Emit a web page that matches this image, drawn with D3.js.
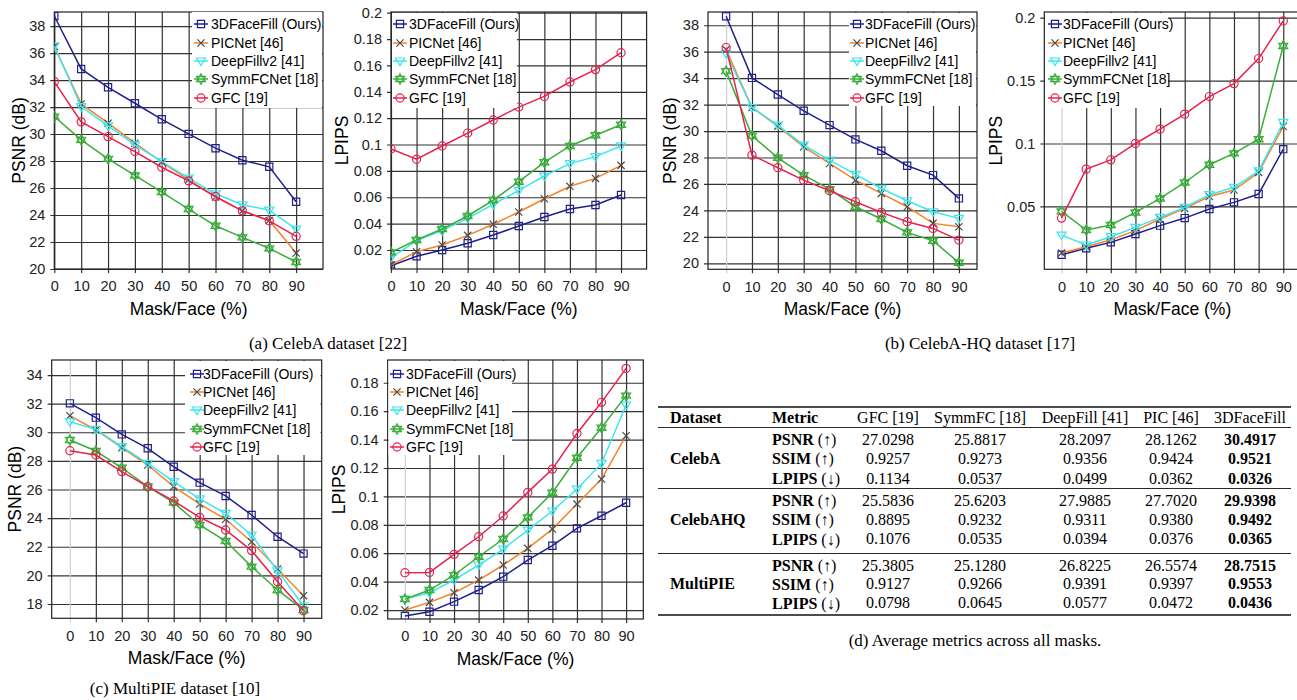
<!DOCTYPE html>
<html>
<head>
<meta charset="utf-8">
<script src="https://cdn.jsdelivr.net/npm/d3@7"></script>
<style>
  body { margin: 0; background: #fff; }
  svg { display: block; }
</style>
</head>
<body>
<script>
// data
const maskPct = [0, 10, 20, 30, 40, 50, 60, 70, 80, 90]
const methods = ["3DFaceFill (Ours)", "PICNet [46]", "DeepFillv2 [41]", "SymmFCNet [18]", "GFC [19]"]

// rows follow the methods order
const celebaPsnr = [
  [38.74, 34.82, 33.46, 32.28, 31.09, 30.01, 28.95, 28.06, 27.57, 24.98],
  [36.47, 32.23, 30.80, 29.32, 27.91, 26.61, 25.33, 24.31, 23.60, 21.18],
  [36.54, 32.03, 30.60, 29.20, 27.96, 26.73, 25.57, 24.76, 24.36, 22.96],
  [31.29, 29.57, 28.16, 26.93, 25.70, 24.44, 23.20, 22.34, 21.53, 20.52],
  [33.88, 30.90, 29.81, 28.70, 27.54, 26.53, 25.37, 24.31, 23.57, 22.42]
]
const celebaLpips = [
  [0.0081, 0.0152, 0.0200, 0.0251, 0.0314, 0.0382, 0.0450, 0.0511, 0.0541, 0.0617],
  [0.0086, 0.0187, 0.0238, 0.0311, 0.0395, 0.0488, 0.0589, 0.0683, 0.0743, 0.0842],
  [0.0142, 0.0271, 0.0347, 0.0440, 0.0546, 0.0652, 0.0761, 0.0855, 0.0908, 0.0989],
  [0.0182, 0.0276, 0.0359, 0.0458, 0.0579, 0.0718, 0.0865, 0.0989, 0.1070, 0.1150],
  [0.0966, 0.0888, 0.0989, 0.1087, 0.1186, 0.1284, 0.1365, 0.1474, 0.1568, 0.1696]
]
const hqPsnr = [
  [38.68, 34.02, 32.76, 31.53, 30.45, 29.37, 28.51, 27.38, 26.67, 24.91],
  [36.16, 31.78, 30.37, 28.81, 27.55, 26.29, 25.29, 24.28, 23.02, 22.77],
  [35.86, 31.78, 30.45, 28.94, 27.80, 26.72, 25.66, 24.73, 23.90, 23.40],
  [34.53, 29.64, 27.98, 26.67, 25.61, 24.28, 23.35, 22.34, 21.71, 20.05],
  [36.31, 28.18, 27.23, 26.29, 25.49, 24.66, 23.85, 23.15, 22.64, 21.76]
]
const hqLpips = [
  [0.0116, 0.0167, 0.0214, 0.0280, 0.0347, 0.0407, 0.0479, 0.0532, 0.0598, 0.0955],
  [0.0130, 0.0180, 0.0235, 0.0307, 0.0400, 0.0484, 0.0579, 0.0630, 0.0770, 0.1135],
  [0.0272, 0.0193, 0.0259, 0.0333, 0.0413, 0.0492, 0.0593, 0.0651, 0.0783, 0.1167],
  [0.0460, 0.0312, 0.0352, 0.0452, 0.0563, 0.0690, 0.0831, 0.0921, 0.1034, 0.1775],
  [0.0407, 0.0796, 0.0870, 0.1000, 0.1114, 0.1233, 0.1373, 0.1476, 0.1675, 0.1974]
]
const mpPsnr = [
  [32.02, 31.02, 29.85, 28.88, 27.59, 26.48, 25.55, 24.22, 22.70, 21.52],
  [31.16, 30.16, 28.92, 27.71, 26.20, 24.99, 23.92, 22.35, 20.45, 18.58],
  [30.74, 30.20, 28.99, 27.83, 26.55, 25.34, 24.33, 22.82, 20.31, 17.86],
  [29.46, 28.69, 27.52, 26.20, 25.08, 23.52, 22.40, 20.61, 18.98, 17.58],
  [28.71, 28.41, 27.25, 26.20, 25.20, 24.05, 23.17, 21.73, 19.56, 17.53]
]
const mpLpips = [
  [0.0158, 0.0188, 0.0259, 0.0341, 0.0435, 0.0552, 0.0653, 0.0775, 0.0864, 0.0955],
  [0.0200, 0.0254, 0.0322, 0.0411, 0.0517, 0.0634, 0.0770, 0.0946, 0.1122, 0.1427],
  [0.0277, 0.0322, 0.0411, 0.0517, 0.0629, 0.0763, 0.0897, 0.1052, 0.1232, 0.1643],
  [0.0277, 0.0341, 0.0446, 0.0575, 0.0700, 0.0852, 0.1026, 0.1272, 0.1483, 0.1709],
  [0.0463, 0.0465, 0.0592, 0.0716, 0.0862, 0.1028, 0.1192, 0.1443, 0.1662, 0.1901]
]

// tick labels
const xTicks = [0, 10, 20, 30, 40, 50, 60, 70, 80, 90]
const psnrTicksA = [20, 22, 24, 26, 28, 30, 32, 34, 36, 38]
const lpipsTicksA = [0.02, 0.04, 0.06, 0.08, 0.1, 0.12, 0.14, 0.16, 0.18, 0.2]
const psnrTicksB = [20, 22, 24, 26, 28, 30, 32, 34, 36, 38]
const lpipsTicksB = [0.05, 0.1, 0.15, 0.2]
const psnrTicksC = [18, 20, 22, 24, 26, 28, 30, 32, 34]
const lpipsTicksC = [0.02, 0.04, 0.06, 0.08, 0.1, 0.12, 0.14, 0.16, 0.18]

// table
const tableCols = ["GFC [19]", "SymmFC [18]", "DeepFill [41]", "PIC [46]", "3DFaceFill"]
const tableDatasets = ["CelebA", "CelebAHQ", "MultiPIE"]
const tableMetrics = [["PSNR", "(\u2191)"], ["SSIM", "(\u2191)"], ["LPIPS", "(\u2193)"]]
const celebaTable = [
  ["27.0298", "25.8817", "28.2097", "28.1262", "30.4917"],
  ["0.9257", "0.9273", "0.9356", "0.9424", "0.9521"],
  ["0.1134", "0.0537", "0.0499", "0.0362", "0.0326"]
]
const hqTable = [
  ["25.5836", "25.6203", "27.9885", "27.7020", "29.9398"],
  ["0.8895", "0.9232", "0.9311", "0.9380", "0.9492"],
  ["0.1076", "0.0535", "0.0394", "0.0376", "0.0365"]
]
const mpTable = [
  ["25.3805", "25.1280", "26.8225", "26.5574", "28.7515"],
  ["0.9127", "0.9266", "0.9391", "0.9397", "0.9553"],
  ["0.0798", "0.0645", "0.0577", "0.0472", "0.0436"]
]

// styles
const lineColors = ["#1f1f8f", "#f5832a", "#3ee6ee", "#3aae3a", "#e8214f"]
const markColors = ["#1f1f8f", "#4a4a4a", "#3ee6ee", "#3aae3a", "#e8214f"]
const sansFont = "'Liberation Sans', Arial, sans-serif"
const serifFont = "'Liberation Serif', 'Times New Roman', serif"

const W = 1297, H = 700
const svg = d3.select("body").append("svg")
  .attr("width", W)
  .attr("height", H)
  .style("background-color", "white")

// marker shapes
function markerPath(i) {
  if (i == 0) return "M-3.6,-3.6h7.2v7.2h-7.2Z"
  if (i == 1) return "M-3.6,-3.6L3.6,3.6M-3.6,3.6L3.6,-3.6"
  if (i == 2) return "M-4.6,-3L4.6,-3L0,4.6Z"
  if (i == 3) {
    const r = 5.2
    const tri = (a0) => [0, 1, 2].map(k => {
      const a = (a0 + k * 120) * Math.PI / 180
      return [r * Math.cos(a), r * Math.sin(a)]
    })
    const up = tri(-90), dn = tri(90)
    return "M" + up.join("L") + "Z M" + dn.join("L") + "Z"
  }
  return d3.symbol().type(d3.symbolCircle).size(52)()
}

let clipId = 0
function drawPlot(cfg) {
  const x = d3.scaleLinear().domain(cfg.xDomain).range([cfg.left, cfg.right])
  const y = d3.scaleLinear().domain(cfg.yDomain).range([cfg.bottom, cfg.top])
  const g = svg.append("g")

  // horizontal grid + ticks
  const yAxis = d3.axisLeft(y).tickValues(cfg.yTicks)
    .tickSize(-(cfg.right - cfg.left) - 4)
    .tickPadding(5)
    .tickFormat(d3.format("~g"))
  const ya = g.append("g")
    .attr("transform", "translate(" + (cfg.left - 4) + ",0)")
    .call(yAxis)
  ya.select(".domain").remove()
  ya.selectAll("line").attr("stroke", "#333").attr("stroke-width", 1.2)
  ya.selectAll("text").attr("font-family", sansFont).attr("font-size", 14.5).attr("fill", "#222")

  // vertical grid + ticks
  const xAxis = d3.axisBottom(x).tickValues(xTicks)
    .tickSize(-(cfg.bottom - cfg.top) - 4)
    .tickPadding(8)
  const xa = g.append("g")
    .attr("transform", "translate(0," + (cfg.bottom + 4) + ")")
    .call(xAxis)
  xa.select(".domain").remove()
  xa.selectAll("line").attr("stroke", d => (d == 0 && cfg.xDomain[0] < 0) ? "#cfcfcf" : "#333")
    .attr("stroke-width", 1.2)
  xa.selectAll("text").attr("font-family", sansFont).attr("font-size", 14.5).attr("fill", "#222")

  // frame
  g.append("rect")
    .attr("x", cfg.left).attr("y", cfg.top)
    .attr("width", cfg.right - cfg.left).attr("height", cfg.bottom - cfg.top)
    .attr("fill", "none").attr("stroke", "#222").attr("stroke-width", 1.2)

  // series
  const cid = "clip" + (clipId++)
  svg.append("clipPath").attr("id", cid).append("rect")
    .attr("x", cfg.left).attr("y", cfg.top)
    .attr("width", cfg.right - cfg.left).attr("height", cfg.bottom - cfg.top)
  const sg = g.append("g").attr("clip-path", "url(#" + cid + ")")
  const line = d3.line().x((d, i) => x(maskPct[i])).y(d => y(d))
  cfg.series.forEach((vals, si) => {
    sg.append("path")
      .datum(vals)
      .attr("d", line)
      .attr("fill", "none")
      .attr("stroke", lineColors[si])
      .attr("stroke-width", 1.5)
    sg.selectAll(".m" + si)
      .data(vals)
      .enter()
      .append("path")
      .attr("class", "m" + si)
      .attr("transform", (d, i) => "translate(" + x(maskPct[i]) + "," + y(d) + ")")
      .attr("d", markerPath(si))
      .attr("fill", "none")
      .attr("stroke", markColors[si])
      .attr("stroke-width", 1.2)
  })

  // axis titles
  g.append("text")
    .attr("x", (cfg.left + cfg.right) / 2)
    .attr("y", cfg.bottom + 40)
    .attr("text-anchor", "middle")
    .attr("dominant-baseline", "central")
    .attr("font-family", sansFont).attr("font-size", 17.5)
    .text("Mask/Face (%)")
  g.append("text")
    .attr("transform", "translate(" + cfg.titleX + "," + (cfg.top + cfg.bottom) / 2 + ") rotate(-90)")
    .attr("text-anchor", "middle")
    .attr("dominant-baseline", "central")
    .attr("font-family", sansFont).attr("font-size", 17.5)
    .text(cfg.yTitle)

  // legend
  const L = cfg.legend
  g.append("rect")
    .attr("x", L.x0).attr("y", L.y0)
    .attr("width", L.x1 - L.x0).attr("height", L.y1 - L.y0)
    .attr("fill", "white")
  methods.forEach((name, si) => {
    const ry = L.rows[si]
    g.append("line")
      .attr("x1", L.symX - 7).attr("x2", L.symX + 7)
      .attr("y1", ry).attr("y2", ry)
      .attr("stroke", lineColors[si]).attr("stroke-width", 1.5)
    g.append("path")
      .attr("transform", "translate(" + L.symX + "," + ry + ")")
      .attr("d", markerPath(si))
      .attr("fill", "none")
      .attr("stroke", markColors[si]).attr("stroke-width", 1.2)
    g.append("text")
      .attr("x", L.textX).attr("y", ry)
      .attr("dominant-baseline", "central")
      .attr("font-family", sansFont).attr("font-size", 14)
      .text(name)
  })
}

const rowsTop = [24, 43, 61, 79, 98]
const rowsBot = [374, 392, 410, 429, 447]

drawPlot({ left: 54.3, right: 323, top: 12, bottom: 269, xDomain: [0, 100], yDomain: [20, 39.04],
  yTicks: psnrTicksA, series: celebaPsnr, yTitle: "PSNR (dB)", titleX: 19,
  legend: { x0: 192, x1: 322, y0: 12, y1: 108, symX: 201, textX: 211, rows: rowsTop } })
drawPlot({ left: 391, right: 646.6, top: 12, bottom: 269, xDomain: [0, 100], yDomain: [0.0056, 0.2005],
  yTicks: lpipsTicksA, series: celebaLpips, yTitle: "LPIPS", titleX: 342,
  legend: { x0: 392, x1: 517, y0: 13, y1: 108, symX: 400, textX: 409, rows: rowsTop } })
drawPlot({ left: 708, right: 977, top: 12, bottom: 269.3, xDomain: [-7, 97], yDomain: [19.55, 39.0],
  yTicks: psnrTicksB, series: hqPsnr, yTitle: "PSNR (dB)", titleX: 670,
  legend: { x0: 849, x1: 976, y0: 13, y1: 106, symX: 857, textX: 865, rows: rowsTop } })
drawPlot({ left: 1044.3, right: 1300.5, top: 12, bottom: 269.3, xDomain: [-7, 97], yDomain: [0, 0.2045],
  yTicks: lpipsTicksB, series: hqLpips, yTitle: "LPIPS", titleX: 996,
  legend: { x0: 1045, x1: 1168, y0: 13, y1: 108, symX: 1055, textX: 1063, rows: rowsTop } })
drawPlot({ left: 51.7, right: 321.7, top: 360, bottom: 618.3, xDomain: [-7, 97], yDomain: [17, 35.05],
  yTicks: psnrTicksC, series: mpPsnr, yTitle: "PSNR (dB)", titleX: 15,
  legend: { x0: 185, x1: 320.5, y0: 361, y1: 455, symX: 197, textX: 203, rows: rowsBot } })
drawPlot({ left: 387.7, right: 643.3, top: 360, bottom: 619, xDomain: [-7, 97], yDomain: [0.0137, 0.196],
  yTicks: lpipsTicksC, series: mpLpips, yTitle: "LPIPS", titleX: 339,
  legend: { x0: 388.5, x1: 512, y0: 361, y1: 455, symX: 397, textX: 406, rows: rowsBot } })

// captions
const captions = [
  ["(a) CelebA dataset [22]", 328, 343],
  ["(b) CelebA-HQ dataset [17]", 980, 343],
  ["(c) MultiPIE dataset [10]", 175, 688],
  ["(d) Average metrics across all masks.", 975, 640]
]
svg.selectAll(".caption")
  .data(captions)
  .enter()
  .append("text")
  .attr("class", "caption")
  .attr("x", d => d[1]).attr("y", d => d[2])
  .attr("text-anchor", "middle")
  .attr("dominant-baseline", "central")
  .attr("font-family", serifFont).attr("font-size", 17)
  .text(d => d[0])

// table
const tg = svg.append("g").attr("font-family", serifFont).attr("font-size", 16)
const colX = [888, 980, 1085, 1171, 1250]
const tLeft = 658, tRight = 1291
function rule(yy, w) {
  tg.append("line").attr("x1", tLeft).attr("x2", tRight)
    .attr("y1", yy).attr("y2", yy)
    .attr("stroke", "#111").attr("stroke-width", w)
}
rule(407, 1.4)
rule(427.5, 0.9)
rule(488.5, 0.9)
rule(553.5, 0.9)
rule(615, 1.4)

const headY = 417
tg.append("text").attr("x", 670).attr("y", headY).attr("dominant-baseline", "central")
  .attr("font-weight", "bold").text("Dataset")
tg.append("text").attr("x", 772).attr("y", headY).attr("dominant-baseline", "central")
  .attr("font-weight", "bold").text("Metric")
tableCols.forEach((c, j) => {
  tg.append("text").attr("x", colX[j]).attr("y", headY)
    .attr("text-anchor", "middle").attr("dominant-baseline", "central").text(c)
})

const groupRows = [[439, 458, 478], [500, 519, 538.5], [565, 583.5, 602.5]]
const tables = [celebaTable, hqTable, mpTable]
tables.forEach((tab, gi) => {
  const rys = groupRows[gi]
  tg.append("text").attr("x", 670).attr("y", rys[1]).attr("dominant-baseline", "central")
    .attr("font-weight", "bold").text(tableDatasets[gi])
  tab.forEach((row, ri) => {
    const t = tg.append("text").attr("x", 772).attr("y", rys[ri]).attr("dominant-baseline", "central")
    t.append("tspan").attr("font-weight", "bold").text(tableMetrics[ri][0])
    t.append("tspan").text(" " + tableMetrics[ri][1])
    row.forEach((v, j) => {
      tg.append("text").attr("x", colX[j]).attr("y", rys[ri])
        .attr("text-anchor", "middle").attr("dominant-baseline", "central")
        .attr("font-weight", j == 4 ? "bold" : "normal")
        .text(v)
    })
  })
})
</script>
</body>
</html>
